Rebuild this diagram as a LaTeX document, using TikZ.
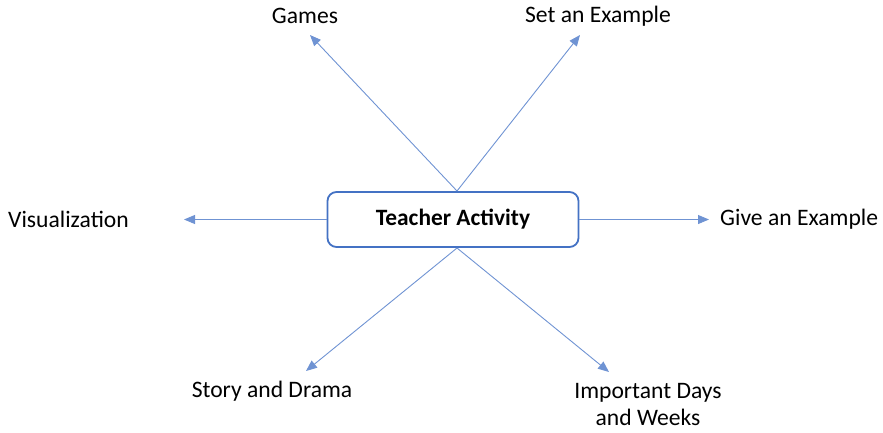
\documentclass[tikz,border=0pt]{standalone}
\usepackage{fontspec}
\setmainfont{Carlito}
\usetikzlibrary{arrows.meta}
\definecolor{boxblue}{HTML}{4472C4}
\definecolor{lineblue}{HTML}{6F93D3}
\tikzset{
  lbl/.style={font=\fontsize{23.6}{27}\selectfont, inner sep=0pt, align=center},
  conn/.style={draw=lineblue, line width=0.9pt, -{Triangle[length=11pt,width=9pt]}},
  mainbox/.style={draw=boxblue, line width=1.8pt, rounded corners=9pt, minimum width=251pt, minimum height=55pt, font=\fontsize{23.4}{27}\selectfont\bfseries}
}
\begin{document}
\begin{tikzpicture}[x=1pt,y=-1pt]
\useasboundingbox (0,0) rectangle (883,432);
\node[mainbox] (c) at (453,219.5) {Teacher Activity};
\coordinate (ctop) at (457,191);
\coordinate (cbot) at (457,248);
\coordinate (tg) at (310,35);
\coordinate (ts) at (580,35);
\coordinate (tv) at (184,219.5);
\coordinate (te) at (709,219.5);
\coordinate (td) at (306,371);
\coordinate (ti) at (609,372);
\node[lbl] (games) at (305,16) {Games};
\node[lbl] (set) at (598,16) {Set an Example};
\node[lbl, anchor=west] (vis) at (8,219) {Visualization};
\node[lbl, anchor=west] (give) at (720,219) {Give an Example};
\node[lbl] (story) at (272,391) {Story and Drama};
\node[lbl] (imp) at (648,404.5) {Important Days\\and Weeks};
\draw[conn] (ctop) -- (tg);
\draw[conn] (ctop) -- (ts);
\draw[conn] (c.west) -- (tv);
\draw[conn] (c.east) -- (te);
\draw[conn] (cbot) -- (td);
\draw[conn] (cbot) -- (ti);
\end{tikzpicture}
\end{document}
